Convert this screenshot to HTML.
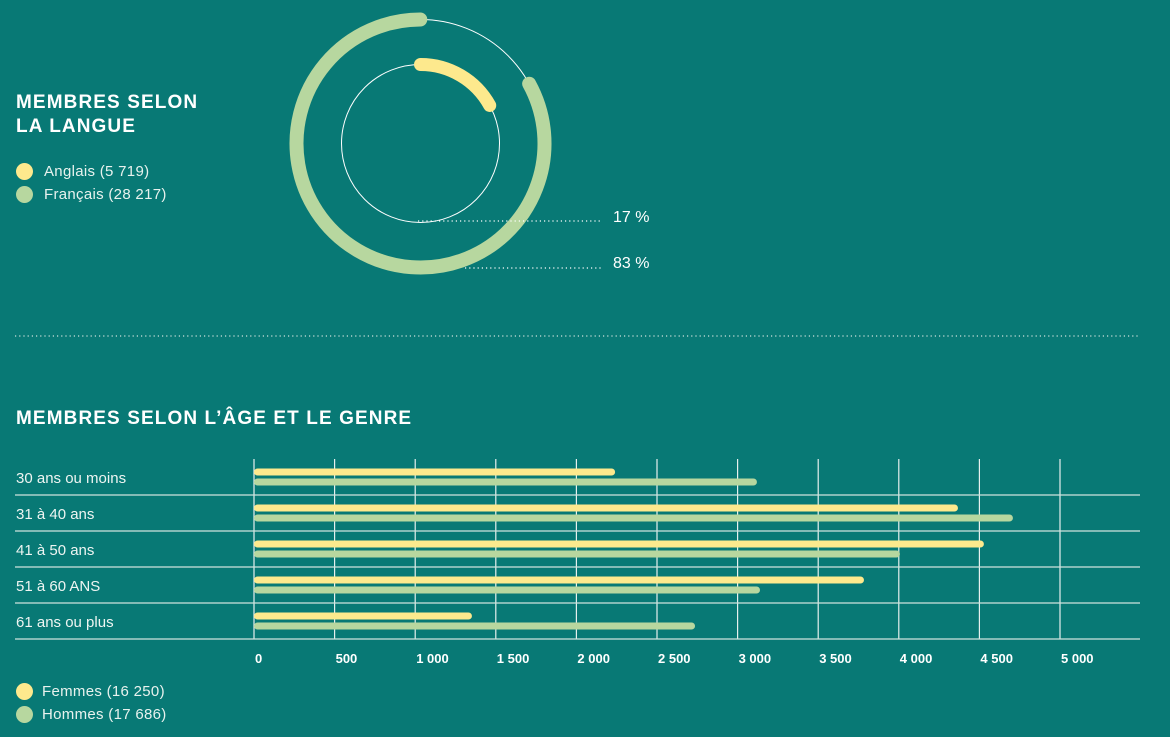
<!DOCTYPE html>
<html><head><meta charset="utf-8"><style>
html,body{margin:0;padding:0;}
body{width:1170px;height:737px;background:#087975;overflow:hidden;font-family:"Liberation Sans",sans-serif;color:#fff;position:relative;}
.abs{position:absolute;}
.title{font-weight:bold;font-size:19px;line-height:24px;letter-spacing:1.1px;}
.leg{font-size:15px;color:#e8f2ee;letter-spacing:0.3px;}
.dot{position:absolute;width:17px;height:17px;border-radius:50%;}
</style></head><body>
<div class="abs title" style="left:16px;top:91px;">MEMBRES SELON<br>LA LANGUE</div>
<div class="dot" style="left:16px;top:163px;background:#fde98d"></div>
<div class="abs leg" style="left:44px;top:163px">Anglais (5 719)</div>
<div class="dot" style="left:16px;top:186px;background:#b7d79f"></div>
<div class="abs leg" style="left:44px;top:186px">Français (28 217)</div>

<svg class="abs" style="left:0;top:0" width="1170" height="737">
<circle cx="420.5" cy="143.5" r="124" fill="none" stroke="#fff" stroke-width="1"/>
<circle cx="420.5" cy="143.5" r="79" fill="none" stroke="#fff" stroke-width="1"/>
<path id="outerArc" fill="none" stroke="#b7d79f" stroke-width="14" stroke-linecap="round"/>
<path id="innerArc" fill="none" stroke="#fde98d" stroke-width="13" stroke-linecap="round"/>
<line x1="418" y1="221" x2="602" y2="221" stroke="#fff" stroke-width="1.2" stroke-dasharray="1.2 3"/>
<line x1="465" y1="268" x2="602" y2="268" stroke="#fff" stroke-width="1.2" stroke-dasharray="1.2 3"/>
<text x="613" y="222" font-size="16" fill="#fff" font-family="Liberation Sans">17 %</text>
<text x="613" y="268" font-size="16" fill="#fff" font-family="Liberation Sans">83 %</text>
<line x1="15" y1="336" x2="1140" y2="336" stroke="#cfe3dd" stroke-width="1.2" stroke-dasharray="1.2 3"/>
</svg>

<div class="abs title" style="left:16px;top:407px;">MEMBRES SELON L’ÂGE ET LE GENRE</div>
<svg id="bars" class="abs" style="left:0;top:0" width="1170" height="737"></svg>
<div class="dot" style="left:16px;top:683px;background:#fde98d"></div>
<div class="abs leg" style="left:42px;top:683px">Femmes (16 250)</div>
<div class="dot" style="left:16px;top:706px;background:#b7d79f"></div>
<div class="abs leg" style="left:42px;top:706px">Hommes (17 686)</div>

<script>
const langShares = [17, 83];
const categories = ["30 ans ou moins","31 à 40 ans","41 à 50 ans","51 à 60 ANS","61 ans ou plus"];
const femmes = [2240, 4367, 4528, 3784, 1352];
const hommes = [3120, 4708, 4007, 3139, 2736];
const ticks = [0,500,1000,1500,2000,2500,3000,3500,4000,4500,5000];
const tickLabels = ["0","500","1 000","1 500","2 000","2 500","3 000","3 500","4 000","4 500","5 000"];

function arcPath(cx,cy,r,a0,a1){
  const p=a=>[cx+r*Math.sin(a*Math.PI/180), cy-r*Math.cos(a*Math.PI/180)];
  const s=p(a0), e=p(a1);
  return `M${s[0]} ${s[1]} A${r} ${r} 0 ${(a1-a0)>180?1:0} 1 ${e[0]} ${e[1]}`;
}
const shareTot = langShares[0]+langShares[1];
const aSplit = langShares[0]/shareTot*360;
document.getElementById('innerArc').setAttribute('d', arcPath(420.5,143.5,79,0,aSplit));
document.getElementById('outerArc').setAttribute('d', arcPath(420.5,143.5,124,aSplit,359.9));

const barSvg=document.getElementById('bars');
const SVGNS='http://www.w3.org/2000/svg';
const axisX0=254, axisX1=1060, axisMax=5000, chartTop=459, rowH=36;
const xScale=v=>axisX0+(axisX1-axisX0)*v/axisMax;
function mk(tag,attrs){const e=document.createElementNS(SVGNS,tag);for(const k in attrs)e.setAttribute(k,attrs[k]);barSvg.appendChild(e);return e;}
ticks.forEach((t,i)=>{
  const g=mk('line',{x1:xScale(t),x2:xScale(t),y1:chartTop,y2:chartTop+rowH*categories.length,stroke:'#e6f0ee','stroke-width':1.2});
  
  
  const l=mk('text',{x:xScale(t)+1,y:663,'font-size':13,'font-weight':'bold',fill:'#fff','font-family':'Liberation Sans'});
  l.textContent=tickLabels[i];
  
  
});
categories.forEach((c,i)=>{
  const yb=chartTop+rowH*(i+1);
  const s=mk('line',{x1:15,x2:1140,y1:yb,y2:yb,stroke:'#cfe3dd','stroke-width':1.2});
  
  
  const t=mk('text',{x:16,y:yb-12,'font-size':15,fill:'#eef5f2','font-family':'Liberation Sans'});
  t.textContent=c;
  
  
  const yf=mk('line',{x1:xScale(0)+3.5,x2:xScale(femmes[i])-3.5,y1:yb-23,y2:yb-23,stroke:'#fde98d','stroke-width':7,'stroke-linecap':'round'});
  
  
  const yh=mk('line',{x1:xScale(0)+3.5,x2:xScale(hommes[i])-3.5,y1:yb-13,y2:yb-13,stroke:'#b7d79f','stroke-width':7,'stroke-linecap':'round'});
  
  
});
</script>
</body></html>
